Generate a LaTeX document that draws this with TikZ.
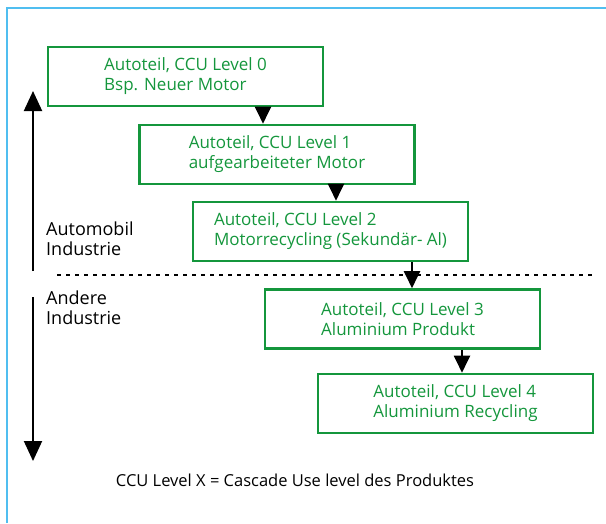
\documentclass[tikz,border=0pt]{standalone}
\usepackage{fontspec}
\setmainfont{Open Sans}
\usetikzlibrary{arrows.meta}
\definecolor{boxgreen}{RGB}{20,150,60}
\definecolor{frameblue}{RGB}{80,190,240}
\begin{document}
\begin{tikzpicture}[x=1pt,y=-1pt,
  level/.style={draw=boxgreen,line width=2.6pt,text=boxgreen,minimum width=275pt,minimum height=59pt,
    align=left,font=\fontsize{17}{20}\selectfont,inner sep=0pt},
  flow/.style={line width=2pt,-{Triangle[length=17pt,width=16pt]}},
  side/.style={line width=2pt,-{Triangle[length=20pt,width=18pt]}},
  lab/.style={anchor=west,align=left,font=\fontsize{18}{20}\selectfont,inner sep=0pt}]
\useasboundingbox (0,0) rectangle (606,523);
\draw[frameblue,line width=1.5pt] (7,523) -- (7,8) -- (606,8);
\node[level] (l0) at (185.5,76.5) {Autoteil, CCU Level 0\\Bsp. Neuer Motor};
\node[level] (l1) at (277,154.5) {Autoteil, CCU Level 1\\aufgearbeiteter Motor};
\node[level] (l2) at (330.5,231.5) {Autoteil, CCU Level 2\\Motorrecycling (Sekundär- Al)};
\node[level] (l3) at (402.5,319) {Autoteil, CCU Level 3\\Aluminium Produkt};
\node[level] (l4) at (455.5,403.5) {Autoteil, CCU Level 4\\Aluminium Recycling};
\draw[flow] (l0.south -| 263,0) -- (l1.north -| 263,0);
\draw[flow] (l1.south -| 336,0) -- (l2.north -| 336,0);
\draw[flow] (l2.south -| 412,0) -- (l3.north -| 412,0);
\draw[flow] (l3.south -| 462,0) -- (l4.north -| 462,0);
\coordinate (dl) at (57,275);
\coordinate (dr) at (592,275);
\draw[line width=2pt,dash pattern=on 4pt off 5pt] (dl) -- (dr);
\coordinate (ua) at (33,271);
\coordinate (ub) at (33,91);
\coordinate (da) at (33,297);
\coordinate (db) at (33,461);
\draw[side] (ua) -- (ub);
\draw[side] (da) -- (db);
\node[lab] (auto) at (46,238.5) {Automobil\\Industrie};
\node[lab] (andere) at (46,307.5) {Andere\\Industrie};
\node[font=\fontsize{16.5}{18}\selectfont,inner sep=0pt] (cap) at (295,480) {CCU Level X = Cascade Use level des Produktes};
\end{tikzpicture}
\end{document}
